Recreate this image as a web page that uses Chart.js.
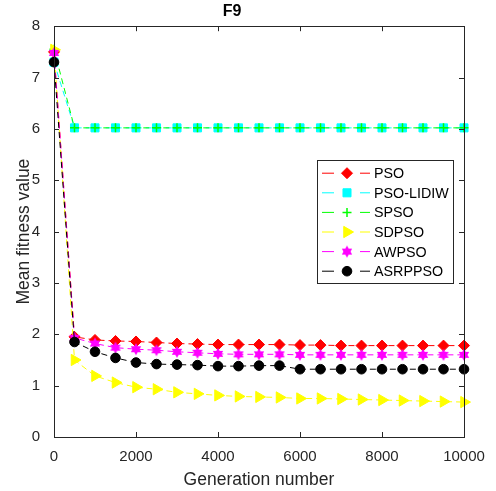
<!DOCTYPE html>
<html>
<head>
<meta charset="utf-8">
<script src="https://cdn.jsdelivr.net/npm/chart.js@4.4.0/dist/chart.umd.min.js"></script>
<style>
  html, body { margin: 0; padding: 0; background: #fff; }
  #wrap { width: 496px; height: 491px; }
</style>
</head>
<body>
<div id="wrap"><canvas id="f9"></canvas></div>
<script>
// generation number every 500
var generations = [0,500,1000,1500,2000,2500,3000,3500,4000,4500,5000,5500,6000,6500,7000,7500,8000,8500,9000,9500,10000];

var pso     = [7.50,1.95,1.89,1.87,1.86,1.84,1.82,1.81,1.80,1.80,1.80,1.80,1.79,1.79,1.78,1.78,1.78,1.78,1.78,1.78,1.78];
var psoLidiw= [7.30,6.02,6.02,6.02,6.02,6.02,6.02,6.02,6.02,6.02,6.02,6.02,6.02,6.02,6.02,6.02,6.02,6.02,6.02,6.02,6.02];
var spso    = [7.55,6.02,6.02,6.02,6.02,6.02,6.02,6.02,6.02,6.02,6.02,6.02,6.02,6.02,6.02,6.02,6.02,6.02,6.02,6.02,6.02];
var sdpso   = [7.54,1.50,1.19,1.06,0.97,0.93,0.87,0.84,0.81,0.79,0.78,0.77,0.75,0.75,0.74,0.73,0.72,0.71,0.70,0.69,0.68];
var awpso   = [7.48,1.93,1.82,1.74,1.71,1.69,1.66,1.64,1.62,1.61,1.61,1.61,1.60,1.60,1.60,1.60,1.60,1.60,1.60,1.60,1.60];
var asrppso = [7.30,1.85,1.66,1.54,1.45,1.42,1.41,1.40,1.38,1.38,1.39,1.39,1.32,1.32,1.32,1.32,1.32,1.32,1.32,1.32,1.32];

var xTicks = [0,2000,4000,6000,8000,10000];
var yTicks = [0,1,2,3,4,5,6,7,8];

var FONT = 'Liberation Sans, Arial, Helvetica, sans-serif';
var AXC = '#262626';

// six-pointed star marker like matlab 'hexagram'
function hexagram(color, r) {
  var c = document.createElement('canvas');
  c.width = c.height = Math.ceil(2 * r + 2);
  var g = c.getContext('2d');
  var cx = c.width / 2, cy = c.height / 2;
  g.fillStyle = color;
  for (var k = 0; k < 2; k++) {
    g.beginPath();
    for (var i = 0; i < 3; i++) {
      var a = -Math.PI / 2 + k * Math.PI + i * 2 * Math.PI / 3;
      var px = cx + r * Math.cos(a), py = cy + r * Math.sin(a);
      if (i === 0) g.moveTo(px, py); else g.lineTo(px, py);
    }
    g.closePath();
    g.fill();
  }
  return c;
}

function series(label, values, color, style, radius, extra) {
  var ds = {
    label: label,
    data: generations.map(function (g, i) { return { x: g, y: values[i] }; }),
    borderColor: color,
    backgroundColor: color,
    pointBackgroundColor: color,
    pointBorderColor: color,
    borderWidth: 1,
    borderDash: [6, 4],
    pointStyle: style,
    pointRadius: radius,
    pointBorderWidth: 1,
    clip: false,
    tension: 0
  };
  for (var k in extra) ds[k] = extra[k];
  return ds;
}

var datasets = [
  series('PSO', pso, '#ff0000', 'rectRot', 5.5, { order: 6 }),
  series('PSO-LIDIW', psoLidiw, '#00ffff', 'rect', 5.7, { order: 5 }),
  series('SPSO', spso, '#00ff00', 'cross', 4.5, { order: 4, pointBorderWidth: 1.5 }),
  series('SDPSO', sdpso, '#ffff00', 'triangle', 6.5, { order: 3, pointRotation: 90 }),
  series('AWPSO', awpso, '#ff00ff', hexagram('#ff00ff', 6), 6, { order: 2 }),
  series('ASRPPSO', asrppso, '#000000', 'circle', 4.8, { order: 1 })
];

// box + inward ticks, matlab style
var boxPlugin = {
  id: 'box',
  afterDraw: function (chart) {
    var ctx = chart.ctx, a = chart.chartArea;
    var xs = chart.scales.x, ys = chart.scales.y;
    ctx.save();
    ctx.strokeStyle = AXC;
    ctx.lineWidth = 1;
    ctx.strokeRect(Math.round(a.left) + 0.5, Math.round(a.top) + 0.5,
                   Math.round(a.right - a.left), Math.round(a.bottom - a.top));
    ctx.beginPath();
    xTicks.forEach(function (v) {
      var px = Math.round(xs.getPixelForValue(v)) + 0.5;
      ctx.moveTo(px, a.bottom); ctx.lineTo(px, a.bottom - 5);
      ctx.moveTo(px, a.top); ctx.lineTo(px, a.top + 5);
    });
    yTicks.forEach(function (v) {
      var py = Math.round(ys.getPixelForValue(v)) + 0.5;
      ctx.moveTo(a.left, py); ctx.lineTo(a.left + 5, py);
      ctx.moveTo(a.right, py); ctx.lineTo(a.right - 5, py);
    });
    ctx.stroke();
    ctx.restore();
  }
};

// legend box: dash - marker - dash, inside the axes
var legendPlugin = {
  id: 'matLegend',
  afterDraw: function (chart) {
    var ctx = chart.ctx, a = chart.chartArea;
    var bx = a.right - 147, by = a.top + 134, bw = 136, bh = 123;
    ctx.save();
    ctx.fillStyle = '#fff';
    ctx.fillRect(bx, by, bw, bh);
    ctx.strokeStyle = AXC;
    ctx.lineWidth = 1;
    ctx.strokeRect(Math.round(bx) + 0.5, Math.round(by) + 0.5, bw, bh);
    ctx.font = '14.3px ' + FONT;
    ctx.textBaseline = 'middle';
    chart.data.datasets.forEach(function (ds, i) {
      var y = by + 13 + i * 19.6;
      ctx.strokeStyle = ds.borderColor;
      ctx.lineWidth = 1;
      ctx.beginPath();
      ctx.moveTo(bx + 5, y); ctx.lineTo(bx + 17, y);
      ctx.moveTo(bx + 43, y); ctx.lineTo(bx + 53, y);
      ctx.stroke();
      ctx.fillStyle = ds.pointBackgroundColor;
      ctx.strokeStyle = ds.pointBorderColor;
      ctx.lineWidth = ds.pointBorderWidth;
      Chart.helpers.drawPoint(ctx, {
        pointStyle: ds.pointStyle,
        rotation: ds.pointRotation || 0,
        radius: ds.pointRadius,
        borderWidth: ds.pointBorderWidth
      }, bx + 30, y);
      ctx.fillStyle = '#000';
      ctx.fillText(ds.label, bx + 57, y + 1);
    });
    ctx.restore();
  }
};

new Chart(document.getElementById('f9'), {
  type: 'line',
  data: { datasets: datasets },
  options: {
    responsive: true,
    maintainAspectRatio: false,
    animation: false,
    layout: { padding: { right: 32, top: 0, left: 0, bottom: 0 } },
    plugins: {
      legend: { display: false },
      tooltip: { enabled: false },
      title: {
        display: true,
        text: 'F9',
        color: '#000',
        font: { family: FONT, size: 16, weight: 'bold' },
        padding: { top: 2, bottom: 5 }
      }
    },
    scales: {
      x: {
        type: 'linear',
        min: 0, max: 10000,
        afterBuildTicks: function (s) { s.ticks = xTicks.map(function (v) { return { value: v }; }); },
        grid: { display: false },
        border: { display: false },
        ticks: { color: AXC, font: { family: FONT, size: 15 }, padding: 3, maxRotation: 0,
                 callback: function (v) { return String(v); } },
        title: { display: true, text: 'Generation number', color: AXC,
                 font: { family: FONT, size: 17.5 }, padding: { top: 0, bottom: 0 } },
        afterFit: function (s) { s.height = 54; }
      },
      y: {
        min: 0, max: 8,
        afterBuildTicks: function (s) { s.ticks = yTicks.map(function (v) { return { value: v }; }); },
        grid: { display: false },
        border: { display: false },
        ticks: { color: AXC, font: { family: FONT, size: 15 }, padding: 6 },
        title: { display: true, text: 'Mean fitness value', color: AXC,
                 font: { family: FONT, size: 17.5 }, padding: { top: 14, bottom: 0 } },
        afterFit: function (s) { s.width = 54; }
      }
    }
  },
  plugins: [boxPlugin, legendPlugin]
});
</script>
</body>
</html>
